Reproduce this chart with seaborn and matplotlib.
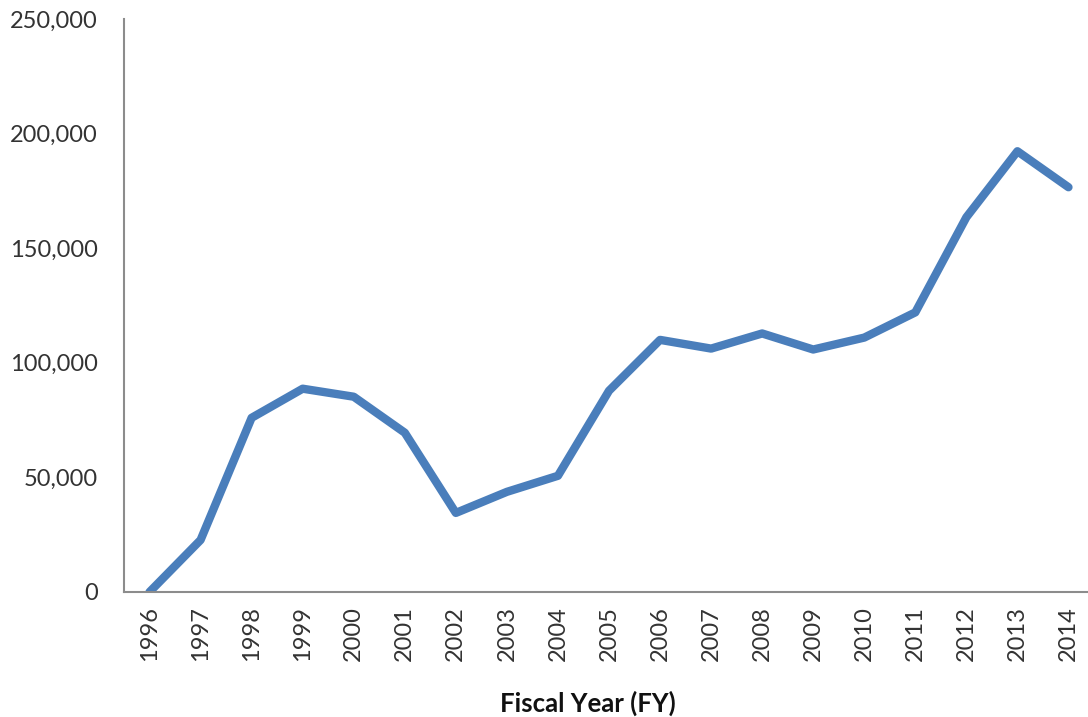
import numpy as np
import pandas as pd
import seaborn as sns
import matplotlib.pyplot as plt
from matplotlib.ticker import FuncFormatter, FixedLocator

# Values
years = [1996, 1997, 1998, 1999, 2000, 2001, 2002, 2003, 2004, 2005,
         2006, 2007, 2008, 2009, 2010, 2011, 2012, 2013, 2014]
counts = [0, 22700, 76000, 88700, 85200, 69500, 34500, 43700, 50700, 87800,
          110000, 106200, 112800, 105800, 111000, 122000, 163500, 192300, 176600]

df = pd.DataFrame({'pos': np.arange(len(years)), 'count': counts})

sns.set_theme(style="white")
plt.rcParams['font.family'] = ['Lato', 'DejaVu Sans']

fig = plt.figure(figsize=(10.88, 7.17), dpi=100)
ax = fig.add_axes([124 / 1088, 1 - 592 / 717, (1094 - 124) / 1088, (592 - 19) / 717])

sns.lineplot(data=df, x='pos', y='count', ax=ax, color='#4a7ebb',
             linewidth=6, solid_capstyle='round', solid_joinstyle='round')

ax.set_xlim(-0.5, len(years) - 0.5)
ax.set_ylim(0, 250000)
ax.set_yticks(np.arange(0, 250001, 50000))
ax.yaxis.set_major_formatter(FuncFormatter(lambda v, p: f'{int(v):,}'))

ax.set_xticks(np.arange(len(years)))
ax.set_xticklabels([str(y) for y in years], rotation=90)
ax.xaxis.set_minor_locator(FixedLocator(np.arange(0.5, len(years) - 0.5, 1)))

ax.tick_params(axis='x', which='major', length=0, labelsize=17, pad=10, colors='#333333')
ax.tick_params(axis='x', which='minor', length=8, width=1.3, direction='in', color='#888888')
ax.tick_params(axis='y', length=0, labelsize=17, pad=19, colors='#333333')

for s in ['top', 'right']:
    ax.spines[s].set_visible(False)
for s in ['left', 'bottom']:
    ax.spines[s].set_color('#8c8c8c')
    ax.spines[s].set_linewidth(1.5)

ax.set_ylabel('')
ax.set_xlabel('')
fig.text(588 / 1088, 1 - 703 / 717, 'Fiscal Year (FY)', ha='center', va='center',
         fontsize=18.5, fontweight='bold', color='#111111')

plt.savefig('out.png', dpi=100)
